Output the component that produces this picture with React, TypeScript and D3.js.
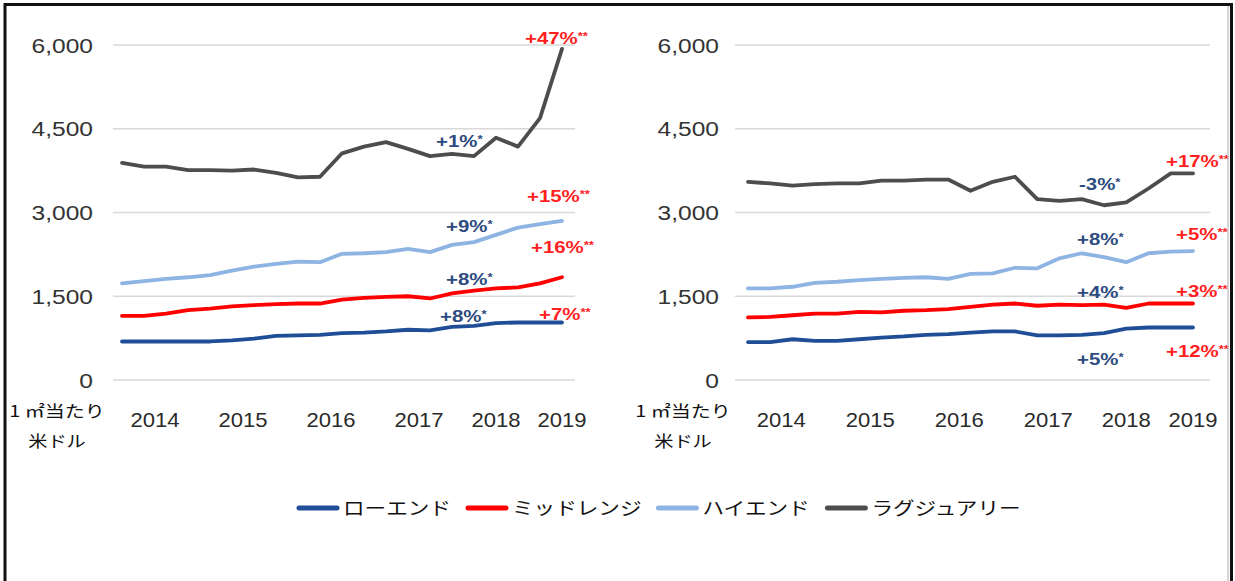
import React from 'react';
import * as d3 from 'd3';

// quarterly observations, 2014 Q1 .. 2019 Q1
const quarters = [
  '2014Q1', '2014Q2', '2014Q3', '2014Q4',
  '2015Q1', '2015Q2', '2015Q3', '2015Q4',
  '2016Q1', '2016Q2', '2016Q3', '2016Q4',
  '2017Q1', '2017Q2', '2017Q3', '2017Q4',
  '2018Q1', '2018Q2', '2018Q3', '2018Q4',
  '2019Q1',
];
const yearLabels = ['2014', '2015', '2016', '2017', '2018', '2019'];
const yTicks = [0, 1500, 3000, 4500, 6000];
const segments = ['ローエンド', 'ミッドレンジ', 'ハイエンド', 'ラグジュアリー'];

// left panel (USD per m2)
const leftLowEnd = [690, 690, 690, 690, 690, 710, 740, 790, 800, 810, 840, 850, 870, 900, 890, 950, 970, 1020, 1030, 1030, 1030];
const leftMidRange = [1150, 1150, 1190, 1250, 1280, 1320, 1340, 1360, 1370, 1370, 1440, 1470, 1490, 1500, 1460, 1550, 1600, 1640, 1660, 1730, 1840];
const leftHighEnd = [1730, 1770, 1810, 1840, 1880, 1960, 2030, 2080, 2120, 2110, 2260, 2270, 2290, 2350, 2290, 2420, 2470, 2600, 2730, 2790, 2850];
const leftLuxury = [3890, 3820, 3820, 3760, 3760, 3750, 3770, 3710, 3630, 3640, 4060, 4180, 4260, 4140, 4010, 4050, 4010, 4340, 4180, 4690, 5930];

// right panel
const rightLowEnd = [680, 680, 730, 700, 700, 730, 760, 780, 810, 820, 850, 870, 870, 800, 800, 810, 840, 920, 940, 940, 940];
const rightMidRange = [1120, 1130, 1160, 1190, 1190, 1220, 1210, 1240, 1250, 1270, 1310, 1350, 1370, 1330, 1350, 1340, 1350, 1290, 1370, 1370, 1370];
const rightHighEnd = [1640, 1640, 1670, 1740, 1760, 1790, 1810, 1830, 1840, 1810, 1900, 1910, 2010, 2000, 2180, 2270, 2200, 2110, 2270, 2300, 2310];
const rightLuxury = [3550, 3520, 3480, 3510, 3520, 3520, 3570, 3570, 3590, 3590, 3390, 3550, 3640, 3240, 3210, 3240, 3130, 3180, 3430, 3700, 3700];

const leftNotes = ['+47%**', '+1%*', '+15%**', '+9%*', '+16%**', '+8%*', '+8%*', '+7%**'];
const rightNotes = ['+17%**', '-3%*', '+8%*', '+5%**', '+4%*', '+3%**', '+5%*', '+12%**'];

// ---- layout ----
const W = 1235;
const H = 581;
const colors = ['#1F4E96', '#FF0000', '#8DB4E2', '#4D4D4D'];
const noteRed = '#FF1F1F';
const noteNavy = '#2D4B80';
const latin = '"Liberation Sans", Arial, sans-serif';
const jp = '"Noto Sans CJK JP", "Noto Sans", sans-serif';
const SX = 1.2; // the source picture is stretched horizontally
const yearTickAt = [1.5, 5.5, 9.5, 13.5, 17, 20];

const leftPos = [[525, 44], [436, 147], [527, 202], [446, 232], [531, 253], [446, 285], [440, 322], [539, 320]];
const rightPos = [[1166, 167], [1079, 190], [1077, 245], [1176, 240], [1077, 298], [1176, 297], [1077, 365], [1166, 357]];

const y = d3.scaleLinear().domain([0, 6000]).range([380, 45]);

interface PanelProps {
  series: number[][];
  px0: number;
  px1: number;
  gx0: number;
  gx1: number;
  labelX: number;
  unitX: number;
  notes: string[];
  notePos: number[][];
}

const Panel: React.FC<PanelProps> = ({ series, px0, px1, gx0, gx1, labelX, unitX, notes, notePos }) => {
  const x = d3.scaleLinear().domain([0, quarters.length - 1]).range([px0, px1]);
  const line = d3.line<number>()
    .x((_, i) => x(i))
    .y(d => y(d));

  return (
    <g>
      {yTicks.map(t => (
        <g key={t}>
          <line x1={gx0} x2={gx1} y1={y(t)} y2={y(t)} stroke="#D9D9D9" strokeWidth={1.5} />
          <text transform={`translate(${labelX},${y(t) + 7.5}) scale(1.17,1)`} textAnchor="end"
            fontFamily={latin} fontSize={21} fill="#333">{d3.format(',')(t)}</text>
        </g>
      ))}
      {yearLabels.map((yr, i) => (
        <text key={yr} transform={`translate(${x(yearTickAt[i])},427) scale(1.05,1)`} textAnchor="middle"
          fontFamily={latin} fontSize={21} fill="#2a2a2a">{yr}</text>
      ))}
      <text transform={`translate(${unitX},417) scale(1.25,1)`} textAnchor="middle" fontFamily={jp} fontSize={16} fill="#111">1 ㎡当たり</text>
      <text transform={`translate(${unitX},447) scale(${SX},1)`} textAnchor="middle" fontFamily={jp} fontSize={16} fill="#111">米ドル</text>
      {series.map((s, i) => (
        <path key={i} d={line(s) || ''} fill="none" stroke={colors[i]} strokeWidth={3.8}
          strokeLinejoin="round" strokeLinecap="round" />
      ))}
      {notes.map((n, i) => {
        const stars = n.match(/\*+$/)?.[0] || '';
        const main = n.slice(0, n.length - stars.length);
        const c = stars.length > 1 ? noteRed : noteNavy;
        return (
          <text key={i} transform={`translate(${notePos[i][0]},${notePos[i][1]}) scale(${SX},1)`}
            fontFamily={latin} fontWeight="bold" fontSize={17} fill={c}>
            {main}
            <tspan fontSize={11} dy={-4}>{stars}</tspan>
          </text>
        );
      })}
    </g>
  );
};

const Legend: React.FC = () => {
  const fs = 18;
  const charW = 21.4;
  let cx = 297;
  const items = segments.map((s, i) => {
    const item = { s, i, x: cx };
    cx += 42 + 4 + s.length * charW + 16;
    return item;
  });
  return (
    <g>
      {items.map(({ s, i, x }) => (
        <g key={s}>
          <line x1={x + 2} x2={x + 40} y1={508} y2={508} stroke={colors[i]} strokeWidth={5} strokeLinecap="round" />
          <text transform={`translate(${x + 46},515) scale(${SX},1)`} fontFamily={jp} fontSize={fs} fill="#111">{s}</text>
        </g>
      ))}
    </g>
  );
};

export default function App() {
  return (
    <svg width={W} height={H} style={{ position: 'absolute', left: 0, top: 0, background: '#fff' }}>
      <defs>
        <clipPath id="frame">
          <rect x={6} y={5} width={1224} height={H} />
        </clipPath>
      </defs>
      <rect width={W} height={H} fill="#fff" />
      <g clipPath="url(#frame)">
        <Panel series={[leftLowEnd, leftMidRange, leftHighEnd, leftLuxury]}
          px0={122} px1={562} gx0={113} gx1={575} labelX={93} unitX={57}
          notes={leftNotes} notePos={leftPos} />
        <Panel series={[rightLowEnd, rightMidRange, rightHighEnd, rightLuxury]}
          px0={748} px1={1193} gx0={735} gx1={1210} labelX={719} unitX={683}
          notes={rightNotes} notePos={rightPos} />
        <Legend />
      </g>
      <line x1={1228} x2={1228} y1={5} y2={H} stroke="#aaa" strokeWidth={1} />
      <path d={`M5,${H + 5}V4.5H1231.5V${H + 5}`} fill="none" stroke="#111" strokeWidth={3} />
    </svg>
  );
}
